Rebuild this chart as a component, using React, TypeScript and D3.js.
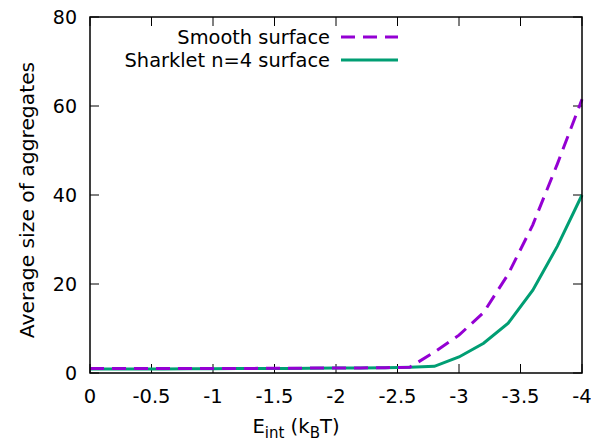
import React, { useEffect, useRef } from "react";
import * as d3 from "d3";

// interaction energy (k_B T), step 0.2
const energies = [0, -0.2, -0.4, -0.6, -0.8, -1.0, -1.2, -1.4, -1.6, -1.8, -2.0, -2.2, -2.4, -2.6, -2.8, -3.0, -3.2, -3.4, -3.6, -3.8, -4.0];
const smoothSizes = [1.0, 1.0, 1.0, 1.0, 1.0, 1.0, 1.0, 1.05, 1.05, 1.1, 1.1, 1.15, 1.2, 1.3, 4.7, 8.5, 13.6, 22.2, 33.3, 47.0, 61.5];
const sharkletSizes = [0.9, 0.9, 0.9, 0.9, 0.95, 0.95, 1.0, 1.0, 1.0, 1.05, 1.1, 1.1, 1.2, 1.3, 1.5, 3.6, 6.7, 11.2, 18.6, 28.5, 40.0];
const xTicks = [0, -0.5, -1, -1.5, -2, -2.5, -3, -3.5, -4];
const yTicks = [0, 20, 40, 60, 80];
const seriesNames = ["Smooth surface", "Sharklet n=4 surface"];

export default function App() {
  const ref = useRef<SVGSVGElement>(null);

  useEffect(() => {
    const svg = d3.select(ref.current);
    svg.selectAll("*").remove();

    const left = 90, right = 582, top = 17, bottom = 373;
    const font = "'DejaVu Sans', sans-serif";

    const x = d3.scaleLinear().domain([0, -4]).range([left, right]);
    const y = d3.scaleLinear().domain([0, 80]).range([bottom, top]);

    const g = svg.append("g");

    // ticks (inward, mirrored)
    const tickLen = 9;
    xTicks.forEach((t) => {
      g.append("line").attr("x1", x(t)).attr("x2", x(t)).attr("y1", bottom).attr("y2", bottom - tickLen).attr("stroke", "#000");
      g.append("line").attr("x1", x(t)).attr("x2", x(t)).attr("y1", top).attr("y2", top + tickLen).attr("stroke", "#000");
      g.append("text")
        .attr("x", x(t))
        .attr("y", bottom + 30)
        .attr("text-anchor", "middle")
        .attr("font-family", font)
        .attr("font-size", 19.5)
        .text(t === 0 ? "0" : String(t));
    });
    yTicks.forEach((t) => {
      g.append("line").attr("x1", left).attr("x2", left + tickLen).attr("y1", y(t)).attr("y2", y(t)).attr("stroke", "#000");
      g.append("line").attr("x1", right).attr("x2", right - tickLen).attr("y1", y(t)).attr("y2", y(t)).attr("stroke", "#000");
      g.append("text")
        .attr("x", left - 13)
        .attr("y", y(t) + 7)
        .attr("text-anchor", "end")
        .attr("font-family", font)
        .attr("font-size", 19)
        .text(String(t));
    });

    // lines
    const line = d3
      .line<number>()
      .x((d, i) => x(energies[i]))
      .y((d) => y(d));

    g.append("path")
      .datum(sharkletSizes)
      .attr("d", line)
      .attr("fill", "none")
      .attr("stroke", "#009e73")
      .attr("stroke-width", 3);

    g.append("path")
      .datum(smoothSizes)
      .attr("d", line)
      .attr("fill", "none")
      .attr("stroke", "#9400d3")
      .attr("stroke-width", 3)
      .attr("stroke-dasharray", "14,8");

    // frame
    g.append("rect")
      .attr("x", left)
      .attr("y", top)
      .attr("width", right - left)
      .attr("height", bottom - top)
      .attr("fill", "none")
      .attr("stroke", "#000")
      .attr("stroke-width", 1.5);

    // legend
    const legend = [
      { name: seriesNames[0], color: "#9400d3", dash: "14,8", y: 37 },
      { name: seriesNames[1], color: "#009e73", dash: null, y: 60 },
    ];
    legend.forEach((l) => {
      g.append("text")
        .attr("x", 330)
        .attr("y", l.y + 7)
        .attr("text-anchor", "end")
        .attr("font-family", font)
        .attr("font-size", 19.4)
        .text(l.name);
      g.append("line")
        .attr("x1", 341)
        .attr("x2", 398)
        .attr("y1", l.y)
        .attr("y2", l.y)
        .attr("stroke", l.color)
        .attr("stroke-width", 3)
        .attr("stroke-dasharray", l.dash);
    });

    // axis titles
    const xl = g.append("text")
      .attr("x", 296)
      .attr("y", 433)
      .attr("text-anchor", "middle")
      .attr("font-family", font)
      .attr("font-size", 19.6);
    xl.append("tspan").text("E");
    xl.append("tspan").attr("font-size", 15).attr("dy", 5).text("int");
    xl.append("tspan").attr("dy", -5).text(" (k");
    xl.append("tspan").attr("font-size", 15).attr("dy", 5).text("B");
    xl.append("tspan").attr("dy", -5).text("T)");

    g.append("text")
      .attr("transform", `translate(34,200) rotate(-90)`)
      .attr("text-anchor", "middle")
      .attr("font-family", font)
      .attr("font-size", 20.3)
      .text("Average size of aggregates");
  }, []);

  return (
    <svg
      ref={ref}
      width={591}
      height={443}
      style={{ position: "absolute", left: 0, top: 0, background: "#fff" }}
    />
  );
}
